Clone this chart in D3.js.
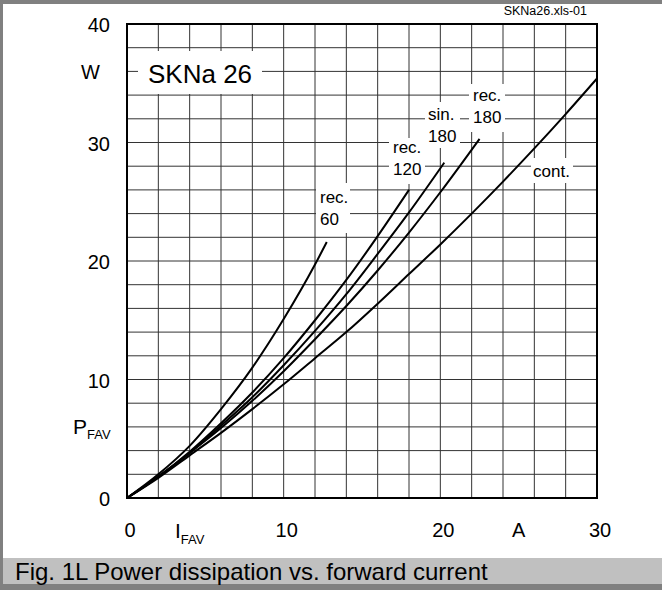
<!DOCTYPE html>
<html>
<head>
<meta charset="utf-8">
<script src="https://cdn.jsdelivr.net/npm/d3@7"></script>
<style>
  html, body { margin: 0; padding: 0; background: #fff; }
  svg { display: block; font-family: Arial, 'Liberation Sans', sans-serif; }
</style>
</head>
<body>
<svg id="chart" width="662" height="590"></svg>
<script>
// values: current in A, power in W
const rec60Current = [0, 2, 4, 6, 8, 10, 12, 12.75]
const rec60Power = [0, 2.0, 4.4, 7.5, 11.0, 15.1, 19.7, 21.6]
const rec120Current = [0, 2, 4, 6, 8, 10, 12, 14, 16, 18]
const rec120Power = [0, 1.8, 3.9, 6.3, 8.9, 11.8, 15.0, 18.4, 22.1, 26.0]
const sin180Current = [0, 2, 4, 6, 8, 10, 12, 14, 16, 18, 20.25]
const sin180Power = [0, 1.8, 3.8, 6.1, 8.5, 11.2, 14.1, 17.2, 20.6, 24.1, 28.3]
const rec180Current = [0, 2, 4, 6, 8, 10, 12, 14, 16, 18, 20, 22.5]
const rec180Power = [0, 1.8, 3.8, 5.9, 8.2, 10.7, 13.4, 16.2, 19.2, 22.4, 25.8, 30.3]
const contCurrent = [0, 2, 4, 6, 8, 10, 12, 14, 16, 18, 20, 22, 24, 26, 28, 30]
const contPower = [0, 1.7, 3.6, 5.5, 7.5, 9.6, 11.8, 14.0, 16.4, 18.9, 21.4, 24.0, 26.7, 29.5, 32.4, 35.4]

const xTicks = [0, 10, 20, 30]
const yTicks = [0, 10, 20, 30, 40]

const series = [
  { name: ['rec.', '60'], current: rec60Current, power: rec60Power },
  { name: ['rec.', '120'], current: rec120Current, power: rec120Power },
  { name: ['sin.', '180'], current: sin180Current, power: sin180Power },
  { name: ['rec.', '180'], current: rec180Current, power: rec180Power },
  { name: ['cont.'], current: contCurrent, power: contPower }
]

// label boxes (left, top, width, height) and text start, in px
const labelBoxes = [
  { box: [316, 183, 34, 50], tx: 320, ty: 203 },
  { box: [389, 138, 36, 46], tx: 393, ty: 153 },
  { box: [425, 102, 35, 46], tx: 428, ty: 120 },
  { box: [469, 84, 36, 48], tx: 473, ty: 101 },
  { box: [531, 158, 42, 25], tx: 533, ty: 177 }
]

const margin = { left: 127, top: 24, right: 65, bottom: 92 }
const width = 662 - margin.left - margin.right
const height = 590 - margin.top - margin.bottom

const x = d3.scaleLinear().domain([0, 30]).range([0, width])
const y = d3.scaleLinear().domain([0, 40]).range([height, 0])

const line =
  d3.line()
    .x(d => x(d[0]))
    .y(d => y(d[1]))
    .curve(d3.curveMonotoneX)

const svg = d3.select('#chart')

// frame and caption band
svg.append('rect').attr('x', 0).attr('y', 0).attr('width', 662).attr('height', 590).attr('fill', '#808080')
svg.append('rect').attr('x', 3).attr('y', 4).attr('width', 659).attr('height', 554).attr('fill', '#fff')
svg.append('rect').attr('x', 3).attr('y', 558).attr('width', 659).attr('height', 26).attr('fill', '#c0c0c0')
svg.append('text')
  .attr('x', 15).attr('y', 580)
  .attr('font-size', 24)
  .text('Fig. 1L Power dissipation vs. forward current')

svg.append('text')
  .attr('x', 587).attr('y', 15)
  .attr('text-anchor', 'end')
  .attr('font-size', 12.5)
  .text('SKNa26.xls-01')

const g = svg.append('g').attr('transform', `translate(${margin.left}, ${margin.top})`)

// grid every 2 A and 2 W
g.append('g')
  .selectAll('line')
  .data(d3.range(2, 30, 2))
  .enter()
  .append('line')
    .attr('x1', d => x(d)).attr('x2', d => x(d))
    .attr('y1', 0).attr('y2', height)
    .attr('stroke', '#333').attr('stroke-width', 1)
g.append('g')
  .selectAll('line')
  .data(d3.range(2, 40, 2))
  .enter()
  .append('line')
    .attr('x1', 0).attr('x2', width)
    .attr('y1', d => y(d)).attr('y2', d => y(d))
    .attr('stroke', '#333').attr('stroke-width', 1)

// white boxes behind the labels
svg.append('g')
  .selectAll('rect')
  .data(labelBoxes)
  .enter()
  .append('rect')
    .attr('x', d => d.box[0]).attr('y', d => d.box[1])
    .attr('width', d => d.box[2]).attr('height', d => d.box[3])
    .attr('fill', '#fff')
svg.append('rect').attr('x', 138).attr('y', 51).attr('width', 124).attr('height', 43).attr('fill', '#fff')
svg.append('text')
  .attr('x', 148).attr('y', 83)
  .attr('font-size', 26)
  .text('SKNa 26')

// curves
g.append('g')
  .selectAll('path')
  .data(series)
  .enter()
  .append('path')
    .attr('fill', 'none')
    .attr('stroke', '#000')
    .attr('stroke-width', 2)
    .attr('stroke-linejoin', 'round')
    .attr('d', d => line(d.current.map((c, i) => [c, d.power[i]])))

// curve labels
series.forEach((s, i) => {
  const t = svg.append('text')
    .attr('x', labelBoxes[i].tx)
    .attr('y', labelBoxes[i].ty)
    .attr('font-size', 17)
  s.name.forEach((n, k) => {
    t.append('tspan')
      .attr('x', labelBoxes[i].tx)
      .attr('dy', k === 0 ? 0 : 22)
      .text(n)
  })
})

// plot border
g.append('rect')
  .attr('width', width).attr('height', height)
  .attr('fill', 'none').attr('stroke', '#000').attr('stroke-width', 2)

// tick labels
g.append('g')
  .selectAll('text')
  .data(yTicks)
  .enter()
  .append('text')
    .attr('x', -17)
    .attr('y', d => y(d) + 8)
    .attr('text-anchor', 'end')
    .attr('font-size', 20)
    .text(d => d)
g.append('g')
  .selectAll('text')
  .data(xTicks)
  .enter()
  .append('text')
    .attr('x', d => x(d) + 3)
    .attr('y', height + 39)
    .attr('text-anchor', 'middle')
    .attr('font-size', 20)
    .text(d => d)

// units and symbols
g.append('text')
  .attr('x', -27).attr('y', y(36) + 8)
  .attr('text-anchor', 'end')
  .attr('font-size', 20)
  .text('W')
g.append('text')
  .attr('x', x(25)).attr('y', height + 39)
  .attr('text-anchor', 'middle')
  .attr('font-size', 20)
  .text('A')

const pLabel = svg.append('text').attr('x', 73).attr('y', 434).attr('font-size', 21)
pLabel.append('tspan').text('P')
pLabel.append('tspan').attr('font-size', 13).attr('dy', 5).text('FAV')

const iLabel = svg.append('text').attr('x', 175).attr('y', 538).attr('font-size', 21)
iLabel.append('tspan').text('I')
iLabel.append('tspan').attr('font-size', 13).attr('dy', 6).text('FAV')
</script>
</body>
</html>
